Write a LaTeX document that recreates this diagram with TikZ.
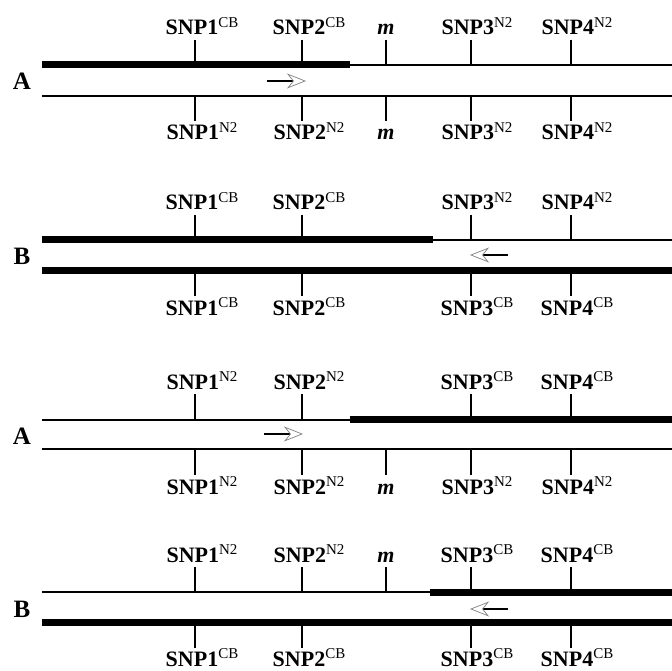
\documentclass[tikz,border=0pt]{standalone}
\usepackage{fontspec}
\setmainfont{Liberation Serif}
\usetikzlibrary{arrows.meta}
\newcommand\snplab[2]{SNP#1\raisebox{0.34em}{\fontsize{15}{15}\selectfont\mdseries #2}}
\tikzset{
  lab/.style={font=\bfseries\fontsize{22}{22}\selectfont, inner sep=0pt, anchor=base},
  panel/.style={font=\bfseries\fontsize{25}{25}\selectfont, inner sep=0pt, anchor=base},
  thickstrand/.style={line width=7pt, line cap=butt},
  thinstrand/.style={line width=2pt, line cap=butt},
  tick/.style={line width=1.5pt},
  dirarrow/.style={line width=2.4pt, -{Stealth[open, length=19pt, width=15pt, inset=6pt, line width=0.7pt, color=gray]}},
}
\begin{document}
\begin{tikzpicture}[x=1pt,y=-1pt]
\useasboundingbox (0,0) rectangle (672,671);
% ---------- Panel 1 (A) ----------
\node[panel] (pA1) at (22,90) {A};
\draw[thickstrand] (42,65) -- (350,65);
\draw[thinstrand] (350,65.5) -- (672,65.5);
\draw[thinstrand] (42,96) -- (672,96);
\foreach \x in {195,302,386,471,571}{
  \draw[tick] (\x,40) -- (\x,65);
  \draw[tick] (\x,96) -- (\x,121);
}
\node[lab] (t11) at (202,35) {\snplab{1}{CB}};
\node[lab] (t12) at (309,35) {\snplab{2}{CB}};
\node[lab] (t1m) at (386,35) {\textit{m}};
\node[lab] (t13) at (477,35) {\snplab{3}{N2}};
\node[lab] (t14) at (577,35) {\snplab{4}{N2}};
\node[lab] (b11) at (202,140) {\snplab{1}{N2}};
\node[lab] (b12) at (309,140) {\snplab{2}{N2}};
\node[lab] (b1m) at (386,140) {\textit{m}};
\node[lab] (b13) at (477,140) {\snplab{3}{N2}};
\node[lab] (b14) at (577,140) {\snplab{4}{N2}};
\coordinate (a1s) at (267,81);
\coordinate (a1e) at (306,81);
\draw[dirarrow] (a1s) -- (a1e);
% ---------- Panel 2 (B) ----------
\node[panel] (pB2) at (22,265) {B};
\draw[thickstrand] (42,240) -- (433,240);
\draw[thinstrand] (433,240.5) -- (672,240.5);
\draw[thickstrand] (42,270) -- (672,270);
\foreach \x in {195,302,471,571}{
  \draw[tick] (\x,215) -- (\x,240);
  \draw[tick] (\x,270) -- (\x,296);
}
\node[lab] (t21) at (202,210) {\snplab{1}{CB}};
\node[lab] (t22) at (309,210) {\snplab{2}{CB}};
\node[lab] (t23) at (477,210) {\snplab{3}{N2}};
\node[lab] (t24) at (577,210) {\snplab{4}{N2}};
\node[lab] (b21) at (202,315) {\snplab{1}{CB}};
\node[lab] (b22) at (309,315) {\snplab{2}{CB}};
\node[lab] (b23) at (477,315) {\snplab{3}{CB}};
\node[lab] (b24) at (577,315) {\snplab{4}{CB}};
\coordinate (a2s) at (508,255);
\coordinate (a2e) at (470,255);
\draw[dirarrow] (a2s) -- (a2e);
% ---------- Panel 3 (A) ----------
\node[panel] (pA3) at (22,444) {A};
\draw[thinstrand] (42,419.5) -- (350,419.5);
\draw[thickstrand] (350,419) -- (672,419);
\draw[thinstrand] (42,449) -- (672,449);
\foreach \x in {195,302,471,571}{
  \draw[tick] (\x,394) -- (\x,419);
}
\foreach \x in {195,302,386,471,571}{
  \draw[tick] (\x,449) -- (\x,475);
}
\node[lab] (t31) at (202,389) {\snplab{1}{N2}};
\node[lab] (t32) at (309,389) {\snplab{2}{N2}};
\node[lab] (t33) at (477,389) {\snplab{3}{CB}};
\node[lab] (t34) at (577,389) {\snplab{4}{CB}};
\node[lab] (b31) at (202,494) {\snplab{1}{N2}};
\node[lab] (b32) at (309,494) {\snplab{2}{N2}};
\node[lab] (b3m) at (386,494) {\textit{m}};
\node[lab] (b33) at (477,494) {\snplab{3}{N2}};
\node[lab] (b34) at (577,494) {\snplab{4}{N2}};
\coordinate (a3s) at (264,434);
\coordinate (a3e) at (303,434);
\draw[dirarrow] (a3s) -- (a3e);
% ---------- Panel 4 (B) ----------
\node[panel] (pB4) at (22,617) {B};
\draw[thinstrand] (42,592) -- (430,592);
\draw[thickstrand] (430,592) -- (672,592);
\draw[thickstrand] (42,622.5) -- (672,622.5);
\foreach \x in {195,302,386,471,571}{
  \draw[tick] (\x,567) -- (\x,592);
}
\foreach \x in {195,302,471,571}{
  \draw[tick] (\x,622) -- (\x,648);
}
\node[lab] (t41) at (202,562) {\snplab{1}{N2}};
\node[lab] (t42) at (309,562) {\snplab{2}{N2}};
\node[lab] (t4m) at (386,562) {\textit{m}};
\node[lab] (t43) at (477,562) {\snplab{3}{CB}};
\node[lab] (t44) at (577,562) {\snplab{4}{CB}};
\node[lab] (b41) at (202,666) {\snplab{1}{CB}};
\node[lab] (b42) at (309,666) {\snplab{2}{CB}};
\node[lab] (b43) at (477,666) {\snplab{3}{CB}};
\node[lab] (b44) at (577,666) {\snplab{4}{CB}};
\coordinate (a4s) at (508,609);
\coordinate (a4e) at (470,609);
\draw[dirarrow] (a4s) -- (a4e);
\end{tikzpicture}
\end{document}
